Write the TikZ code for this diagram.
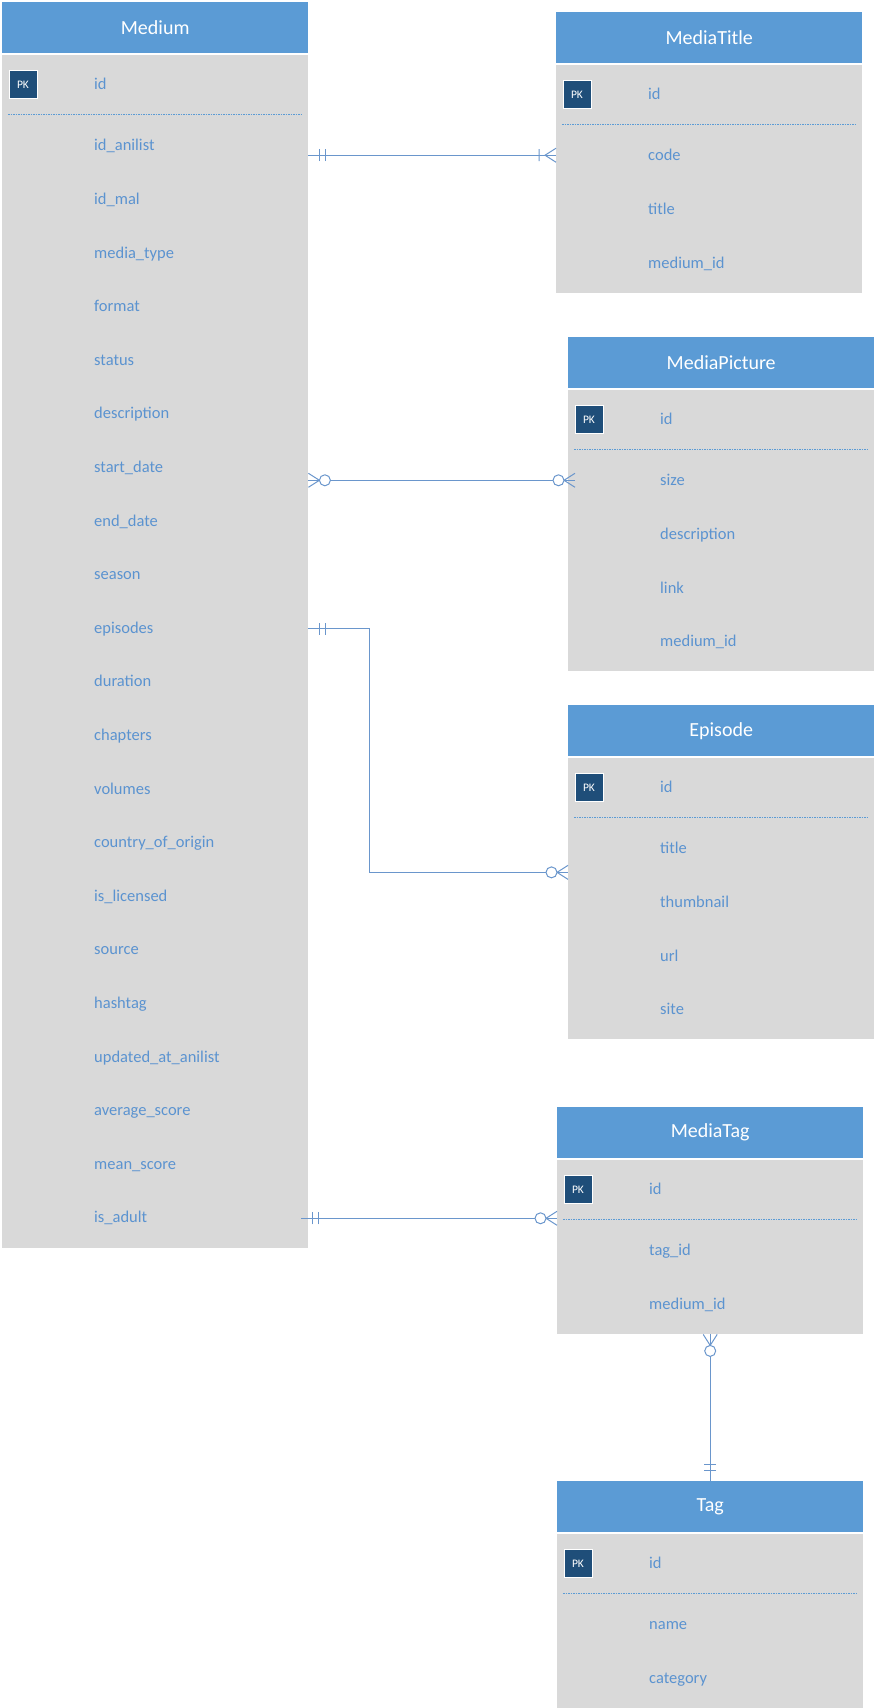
\documentclass[tikz,border=0pt]{standalone}
\usepackage{fontspec}
\setmainfont{Carlito}
\usetikzlibrary{positioning,calc}

\definecolor{hdblue}{HTML}{5B9BD5}
\definecolor{bodygray}{HTML}{D9D9D9}
\definecolor{pkblue}{HTML}{1F4E79}
\definecolor{fieldblue}{HTML}{5B93D0}
\definecolor{lineblue}{HTML}{6A96CC}

\tikzset{
  tabhead/.style={fill=hdblue, text=white, font=\fontsize{20}{24}\selectfont,
    minimum width=306pt, minimum height=51pt, inner sep=0pt, anchor=north west},
  tabbody/.style={fill=bodygray, minimum width=306pt, inner sep=0pt, anchor=north west},
  field/.style={text=fieldblue, font=\fontsize{16.5}{20}\selectfont, anchor=base west, inner sep=0pt},
  pkbox/.style={fill=pkblue, draw=white, line width=0.8pt, text=white,
    font=\fontsize{11.5}{13}\selectfont, minimum size=28pt, inner sep=0pt},
  sepline/.style={draw=hdblue, line width=0.7pt, dash pattern=on 1.5pt off 1pt},
  rel/.style={draw=lineblue, line width=1pt},
  % marks, local x points into the table
  mandone/.pic={\draw[rel] (-11,-6) -- (-11,6) (-17,-6) -- (-17,6);},
  onemany/.pic={\draw[rel] (0,-7) -- (-11,0) -- (0,7) (-17,-6) -- (-17,6);},
  zeromany/.pic={\draw[rel] (0,-7) -- (-11,0) -- (0,7);
    \draw[rel, fill=white] (-16.5,0) circle (5.5pt);},
}

% name, top left, title, fields, number of fields
\newcommand{\ertable}[5]{%
  \node[tabhead] (#1) at (#2) {#3};
  \node[tabbody, minimum height={121+53.6*(#5-1)}] (#1-body) at ($(#1.south west)+(0,1)$) {};
  \node[pkbox] (#1-pk) at ($(#1-body.north west)+(21,30)$) {PK};
  \node[field] (#1-id) at ($(#1-body.north west)+(92,35.5)$) {id};
  \draw[sepline] ($(#1-body.north west)+(6,60)$) -- ($(#1-body.north east)+(-6,60)$);
  \foreach \f [count=\i from 0] in {#4}
    \node[field] (#1-f\i) at ($(#1-body.north west)+(92,{96.5+53.6*\i})$) {\f};
}

\begin{document}
\begin{tikzpicture}[x=1pt, y=-1pt]
  \useasboundingbox (0,0) rectangle (875,1708);

  \ertable{medium}{2,2}{Medium}{id\_anilist, id\_mal, media\_type, format, status,
    description, start\_date, end\_date, season, episodes, duration, chapters,
    volumes, country\_of\_origin, is\_licensed, source, hashtag,
    updated\_at\_anilist, average\_score, mean\_score, is\_adult}{21}
  \ertable{mtitle}{556,12}{MediaTitle}{code, title, medium\_id}{3}
  \ertable{mpic}{568,337}{MediaPicture}{size, description, link, medium\_id}{4}
  \ertable{episode}{568,705}{Episode}{title, thumbnail, url, site}{4}
  \ertable{mtag}{557,1107}{MediaTag}{tag\_id, medium\_id}{2}
  \ertable{tag}{557,1481}{Tag}{name, category}{2}

  % Medium -- MediaTitle
  \coordinate (c1a) at (medium-body.east |- mtitle-f0);
  \coordinate (c1b) at (mtitle-body.west |- mtitle-f0);
  \draw[rel] (c1a) -- (c1b);
  \pic[rotate=180] at (c1a) {mandone};
  \pic at (c1b) {onemany};

  % Medium -- MediaPicture
  \coordinate (c2a) at (medium-body.east |- mpic-f0);
  \coordinate (c2b) at ($(mpic-body.west |- mpic-f0)+(7,0)$);
  \draw[rel] (c2a) -- (c2b);
  \pic[rotate=180] at (c2a) {zeromany};
  \pic at (c2b) {zeromany};

  % Medium -- Episode
  \coordinate (c3a) at (medium-body.east |- medium-f9);
  \coordinate (c3y) at ($(episode-f0)!.45!(episode-f1)$);
  \coordinate (c3b) at (episode-body.west |- c3y);
  \draw[rel] (c3a) -- ++(61,0) |- (c3b);
  \pic[rotate=180] at (c3a) {mandone};
  \pic at (c3b) {zeromany};

  % Medium -- MediaTag
  \coordinate (c4a) at ($(medium-body.east |- medium-f20)+(-7,0)$);
  \coordinate (c4b) at (mtag-body.west |- medium-f20);
  \draw[rel] (c4a) -- (c4b);
  \pic[rotate=180] at (c4a) {mandone};
  \pic at (c4b) {zeromany};

  % MediaTag -- Tag
  \draw[rel] (mtag-body.south) -- (tag.north);
  \pic[rotate=90] at (mtag-body.south) {zeromany};
  \pic[rotate=-90] at (tag.north) {mandone};
\end{tikzpicture}
\end{document}
